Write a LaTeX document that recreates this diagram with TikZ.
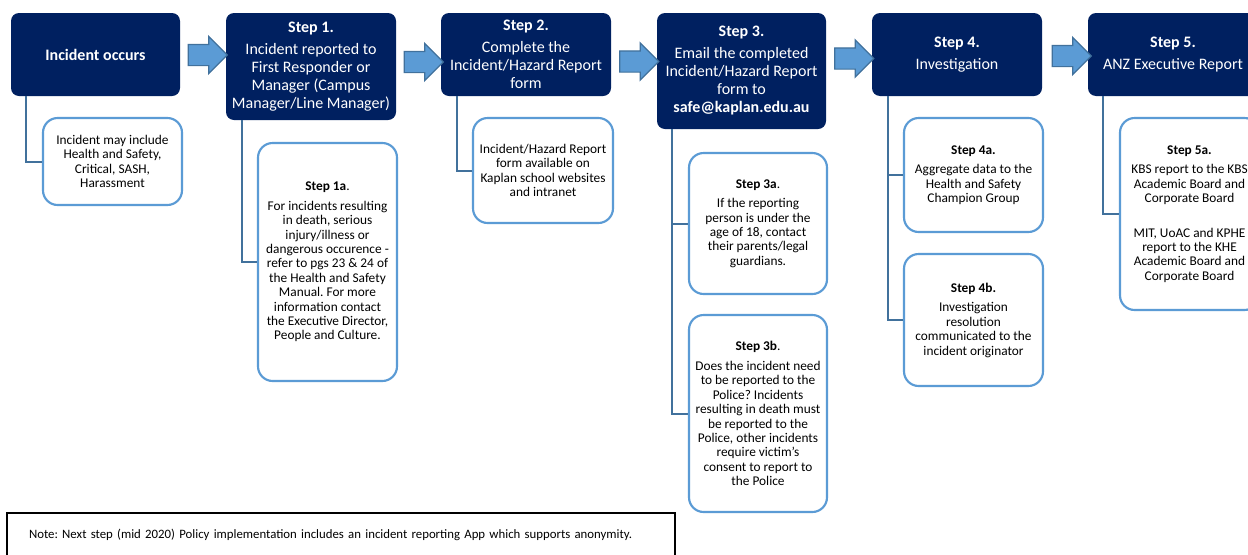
\documentclass[tikz,border=0pt]{standalone}
\usepackage{fontspec}
\setmainfont{Carlito}
\usetikzlibrary{shapes.arrows}
\definecolor{navy}{HTML}{002060}
\definecolor{skyblue}{HTML}{5B9BD5}
\definecolor{steelblue}{HTML}{41719C}
\frenchspacing
\begin{document}
\begin{tikzpicture}[x=0.75pt,y=-0.75pt,
  headbox/.style={fill=navy,text=white,rounded corners=6pt,align=center,
    inner sep=0pt,font=\fontsize{12}{13.5}\selectfont},
  notebox/.style={draw=skyblue,line width=1.6pt,fill=white,rounded corners=11pt,
    align=center,inner sep=0pt,minimum width=104.25pt,font=\fontsize{10}{10.8}\selectfont},
  linkline/.style={draw=steelblue,line width=1.5pt},
  flowarrow/.style={single arrow,draw=steelblue,fill=skyblue,line width=0.9pt,
    minimum height=29.25pt,minimum width=27pt,single arrow head extend=6pt,
    inner xsep=0pt,inner ysep=7.5pt}]

\clip (0,0) rectangle (1248,554);
\fill [white] (0,0) rectangle (1248,554);

% main steps
\node [headbox,minimum width=126.75pt,minimum height=62.25pt] (occurs) at (95.5,54.5) {\textbf{Incident occurs}};
\node [headbox,minimum width=127.5pt,minimum height=80.25pt] (step1) at (311,66.5) {\textbf{Step 1.}\\[3pt] Incident reported to\\ First Responder or\\ Manager (Campus\\ Manager/Line Manager)};
\node [headbox,minimum width=127.5pt,minimum height=62.25pt] (step2) at (526,54.5) {\textbf{Step 2.}\\[3pt] Complete the\\ Incident/Hazard Report\\ form};
\node [headbox,minimum width=126.75pt,minimum height=87pt] (step3) at (741.5,71) {\textbf{Step 3.}\\[3pt] Email the completed\\ Incident/Hazard Report\\ form to\\ \textbf{safe@kaplan.edu.au}};
\node [headbox,minimum width=127.5pt,minimum height=62.25pt] (step4) at (957,54.5) {\textbf{Step 4.}\\[3pt] Investigation};
\node [headbox,minimum width=127.5pt,minimum height=62.25pt] (step5) at (1173,54.5) {\textbf{Step 5.}\\[3pt] ANZ Executive Report};

% arrows between steps
\node [flowarrow] (a1) at (202.5,55) {};
\node [flowarrow] (a2) at (418.5,62) {};
\node [flowarrow] (a3) at (634,61.5) {};
\node [flowarrow] (a4) at (849,58.5) {};
\node [flowarrow] (a5) at (1066.5,56) {};

% detail boxes
\node [notebox,minimum height=65.25pt] (incl) at (112.5,161.5) {Incident may include\\ Health and Safety,\\ Critical, SASH,\\ Harassment};
\node [notebox,minimum height=178.5pt] (s1a) at (327.5,262) {\textbf{Step 1a}.\\[4pt] For incidents resulting\\ in death, serious\\ injury/illness or\\ dangerous occurence -\\ refer to pgs 23 \& 24 of\\ the Health and Safety\\ Manual. For more\\ information contact\\ the Executive Director,\\ People and Culture.};
\node [notebox,minimum width=105pt,minimum height=78.75pt] (s2a) at (543,170.5) {Incident/Hazard Report\\ form available on\\ Kaplan school websites\\ and intranet};
\node [notebox,minimum width=103.5pt,minimum height=105.75pt] (s3a) at (758,223.5) {\textbf{Step 3a}.\\[4pt] If the reporting\\ person is under the\\ age of 18, contact\\ their parents/legal\\ guardians.};
\node [notebox,minimum width=103.5pt,minimum height=147.75pt] (s3b) at (758,413.5) {\textbf{Step 3b}.\\[4pt] Does the incident need\\ to be reported to the\\ Police? Incidents\\ resulting in death must\\ be reported to the\\ Police, other incidents\\ require victim's\\ consent to report to\\ the Police};
\node [notebox,minimum height=85.5pt] (s4a) at (973.5,175) {\textbf{Step 4a.}\\[4pt] Aggregate data to the\\ Health and Safety\\ Champion Group};
\node [notebox,minimum height=99pt] (s4b) at (973.5,320) {\textbf{Step 4b.}\\[4pt] Investigation\\ resolution\\ communicated to the\\ incident originator};
\node [notebox,minimum height=144pt] (s5a) at (1189.5,214) {\textbf{Step 5a.}\\[4pt] KBS report to the KBS\\ Academic Board and\\ Corporate Board\\[15pt] MIT, UoAC and KPHE\\ report to the KHE\\ Academic Board and\\ Corporate Board};

% links down to the detail boxes
\draw [linkline] ([xshift=11.5pt]occurs.south west) |- (incl.west);
\draw [linkline] ([xshift=12pt]step1.south west) |- (s1a.west);
\draw [linkline] ([xshift=12pt]step2.south west) |- (s2a.west);
\coordinate (s3foot) at ([xshift=11.25pt]step3.south west);
\draw [linkline] (s3foot) |- (s3a.west);
\draw [linkline] (s3foot) |- (s3b.west);
\coordinate (s4foot) at ([xshift=12pt]step4.south west);
\draw [linkline] (s4foot) |- (s4a.west);
\draw [linkline] (s4foot) |- (s4b.west);
\draw [linkline] ([xshift=11.25pt]step5.south west) |- (s5a.west);

% note at the bottom
\node [draw=black,line width=1.1pt,minimum width=501pt,minimum height=33pt,text width=468pt,
  inner xsep=16.5pt,align=left,font=\fontsize{9.6}{10.8}\selectfont] (note) at (341,535)
  {Note: Next step (mid 2020) Policy implementation includes an incident reporting App which supports anonymity.};

\end{tikzpicture}
\end{document}
